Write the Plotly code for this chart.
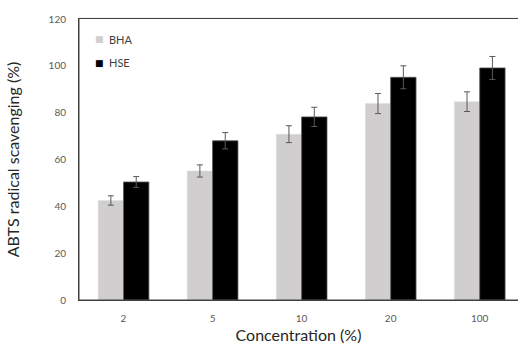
import plotly.graph_objects as go

categories = ["2", "5", "10", "20", "100"]
bha = [42.5, 55.1, 70.8, 83.9, 84.7]
bha_err = [2.0, 2.6, 3.6, 4.3, 4.2]
hse = [50.4, 68.0, 78.2, 95.1, 99.1]
hse_err = [2.3, 3.5, 4.1, 4.9, 4.9]
star_cats = ["20", "100"]
star_y = [106.8, 110.2]
series_names = ["BHA", "HSE"]
series_colors = ["#d0cece", "#000000"]

FONT = "Lato"
W, H = 518, 344
ML, MR, MT, MB = 79, 0, 19, 44
fig = go.Figure()
fig.add_trace(go.Bar(
    name=series_names[0], x=categories, y=bha, showlegend=False,
    marker=dict(color=series_colors[0], line=dict(color="#e0e0e0", width=0.5)),
    error_y=dict(type="data", array=bha_err, color="#595959", thickness=1, width=3),
))
fig.add_trace(go.Bar(
    name=series_names[1], x=categories, y=hse, showlegend=False,
    marker=dict(color=series_colors[1], line=dict(color="#595959", width=0.8)),
    error_y=dict(type="data", array=hse_err, color="#595959", thickness=1, width=3),
))
for c, yv in zip(star_cats, star_y):
    fig.add_annotation(x=c, y=yv, text="***", showarrow=False, xshift=-3,
                       font=dict(family=FONT, size=12, color="#404040"))

# legend drawn as annotations (small squares close to the text, as in the reference)
pw, ph = W - ML - MR, H - MT - MB
legend_y_px = [39, 63]
for name, col, ypx in zip(series_names, series_colors, legend_y_px):
    yp = 1 - (ypx - MT) / ph
    fig.add_annotation(xref="paper", yref="paper", x=(99 - ML) / pw, y=yp,
                       text="■", showarrow=False, xanchor="center", yanchor="middle",
                       font=dict(family="DejaVu Sans", size=9, color=col))
    fig.add_annotation(xref="paper", yref="paper", x=(107 - ML) / pw, y=yp,
                       text=name, showarrow=False, xanchor="left", yanchor="middle",
                       font=dict(family=FONT, size=11, color="#404040"))

# frame around the plot area (its right side falls outside the picture, as in the reference)
fig.add_shape(type="rect", xref="paper", yref="paper", x0=0, x1=1.05, y0=0, y1=1.002,
              layer="above", line=dict(color="#404040", width=1), fillcolor="rgba(0,0,0,0)")

fig.update_layout(
    width=W, height=H,
    margin=dict(l=ML, r=MR, t=MT, b=MB, autoexpand=False),
    paper_bgcolor="white", plot_bgcolor="white",
    barmode="group", bargap=0.43, bargroupgap=0,
    font=dict(family=FONT, size=10, color="#595959"),
    showlegend=False,
    xaxis=dict(range=[-0.5, 4.43], showline=True, linecolor="#404040", linewidth=1,
               mirror=True, showgrid=False, ticks="", ticklabelstandoff=9,
               automargin=False,
               tickfont=dict(size=10, color="#595959"),
               title=dict(text="Concentration (%)", font=dict(size=16, color="#262626"), standoff=8)),
    yaxis=dict(range=[0, 120], dtick=20, showline=True, linecolor="#404040", linewidth=1,
               showgrid=False, zeroline=False, ticks="", ticklabelstandoff=10,
               automargin=False,
               tickfont=dict(size=10, color="#595959"),
               title=dict(text="ABTS radical scavenging (%)", font=dict(size=16, color="#262626"), standoff=24)),
)
fig.write_html("out.html", config={"displayModeBar": False},
               post_script="document.body.style.margin='0';")
